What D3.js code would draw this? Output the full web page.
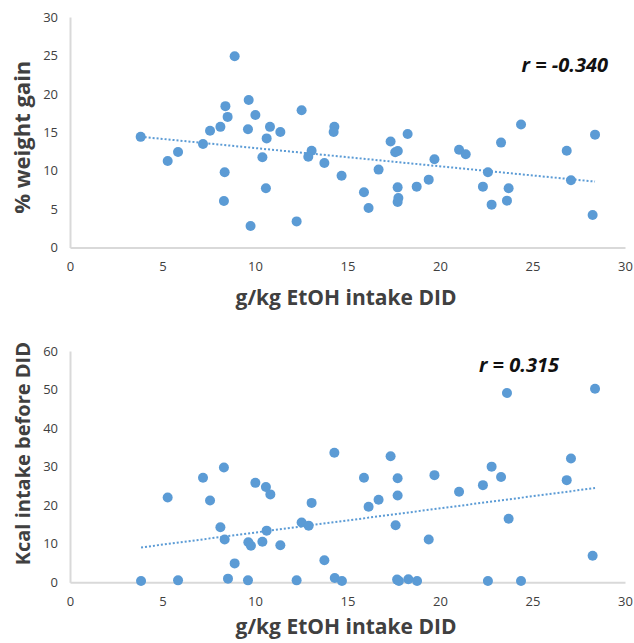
<!DOCTYPE html>
<html>
<head>
<meta charset="utf-8">
<script src="https://cdn.jsdelivr.net/npm/d3@7"></script>
<style>
  body { margin: 0; background: #fff; }
  text { font-family: "Open Sans", sans-serif; }
</style>
</head>
<body>
<div id="chart"></div>
<script>
// Data: g/kg EtOH intake DID vs % weight gain
var weightX = [3.82, 5.28, 5.84, 7.19, 7.57, 8.13, 8.40, 8.52, 8.36, 8.32, 8.90, 9.66, 9.62, 10.02,
  9.76, 10.4, 10.59, 10.63, 10.81, 11.37, 12.25, 12.52, 13.06, 12.88, 13.75, 14.29, 14.25, 14.68,
  15.89, 16.14, 16.68, 17.33, 17.58, 17.72, 17.71, 17.75, 17.71, 18.25, 18.74, 19.39, 19.7, 21.03,
  21.39, 22.32, 22.59, 22.79, 23.3, 23.71, 23.62, 24.38, 26.85, 27.08, 28.38, 28.25];
var weightY = [14.4, 11.26, 12.43, 13.47, 15.2, 15.7, 18.4, 17.0, 9.79, 6.05, 24.9, 19.2, 15.4, 17.25,
  2.8, 11.74, 7.71, 14.2, 15.7, 15.04, 3.4, 17.86, 12.6, 11.8, 11.0, 15.7, 15.04, 9.35,
  7.18, 5.14, 10.14, 13.8, 12.4, 12.55, 7.83, 6.44, 5.92, 14.78, 7.92, 8.83, 11.48, 12.73,
  12.13, 7.92, 9.79, 5.58, 13.65, 7.71, 6.1, 16.0, 12.6, 8.75, 14.69, 4.23];

// g/kg EtOH intake DID vs Kcal intake before DID
var kcalX = [3.84, 5.28, 5.84, 7.19, 7.57, 8.13, 8.32, 8.36, 8.54, 8.9, 9.62, 9.64, 9.78, 10.02,
  10.4, 10.59, 10.83, 10.63, 11.37, 12.25, 12.52, 12.9, 13.06, 13.75, 14.29, 14.31, 14.7, 15.89,
  16.14, 16.68, 17.33, 17.71, 17.71, 17.6, 17.68, 17.78, 18.29, 18.76, 19.39, 19.7, 21.03, 22.32,
  22.59, 22.79, 23.3, 23.62, 23.71, 24.38, 26.85, 27.08, 28.38, 28.25];
var kcalY = [0.34, 22.0, 0.5, 27.1, 21.2, 14.3, 29.8, 11.1, 0.95, 4.9, 0.5, 10.4, 9.5, 25.8,
  10.5, 24.7, 22.8, 13.4, 9.6, 0.5, 15.5, 14.7, 20.6, 5.7, 33.6, 1.1, 0.34, 27.1,
  19.6, 21.4, 32.7, 27.0, 22.5, 14.8, 0.7, 0.34, 0.78, 0.34, 11.1, 27.8, 23.5, 25.2,
  0.34, 30.0, 27.3, 49.1, 16.5, 0.34, 26.5, 32.1, 50.2, 6.9];

var xTicks = [0, 5, 10, 15, 20, 25, 30];
var weightTicks = [0, 5, 10, 15, 20, 25, 30];
var kcalTicks = [0, 10, 20, 30, 40, 50, 60];

var svgWidth = 634;
var svgHeight = 643;
var dotColor = "#5b9bd5";
var textColor = "#404040";

var svg = d3.select("#chart")
  .append("svg")
  .attr("width", svgWidth)
  .attr("height", svgHeight);

// Least squares fit, drawn between the min and max x
function fitLine(xs, ys) {
    var mx = d3.mean(xs), my = d3.mean(ys);
    var sxy = d3.sum(xs, (x, i) => (x - mx) * (ys[i] - my));
    var sxx = d3.sum(xs, x => (x - mx) * (x - mx));
    var b = sxy / sxx;
    var a = my - b * mx;
    var x0 = d3.min(xs), x1 = d3.max(xs);
    return [[x0, a + b * x0], [x1, a + b * x1]];
}

function drawPanel(opts) {
    var x = d3.scaleLinear().domain([0, 30]).range([70, 625]);
    var y = d3.scaleLinear().domain([0, d3.max(opts.yTicks)]).range([opts.bottom, opts.top]);
    var g = svg.append("g");

    // axes
    var xAxis = g.append("g")
        .attr("transform", `translate(0, ${opts.bottom})`)
        .call(d3.axisBottom(x).tickValues(xTicks).tickSize(0).tickPadding(14));
    var yAxis = g.append("g")
        .attr("transform", "translate(70, 0)")
        .call(d3.axisLeft(y).tickValues(opts.yTicks).tickSize(0).tickPadding(12));

    [xAxis, yAxis].forEach(ax => {
        ax.select(".domain").attr("stroke", "#d9d9d9").attr("stroke-width", 2);
        ax.selectAll("text")
            .attr("fill", textColor)
            .style("font-size", "13px")
            .style("font-family", "Open Sans, sans-serif");
    });

    // axis titles
    g.append("text")
        .attr("x", 346)
        .attr("y", opts.xLabelY)
        .attr("text-anchor", "middle")
        .attr("fill", textColor)
        .style("font-size", "21px")
        .style("font-weight", "bold")
        .text(opts.xLabel);

    g.append("text")
        .attr("transform", `translate(30, ${(opts.top + opts.bottom) / 2 + opts.yLabelShift}) rotate(-90)`)
        .attr("text-anchor", "middle")
        .attr("fill", textColor)
        .style("font-size", opts.yLabelSize)
        .style("font-weight", "bold")
        .text(opts.yLabel);

    // trend line
    var fit = fitLine(opts.xs, opts.ys);
    g.append("path")
        .attr("d", d3.line().x(d => x(d[0])).y(d => y(d[1]))(fit))
        .attr("fill", "none")
        .attr("stroke", dotColor)
        .attr("stroke-width", 2)
        .attr("stroke-dasharray", "2,2");

    // points
    g.selectAll("circle")
        .data(opts.xs.map((d, i) => [d, opts.ys[i]]))
        .enter()
        .append("circle")
        .attr("cx", d => x(d[0]))
        .attr("cy", d => y(d[1]))
        .attr("r", 5)
        .attr("fill", dotColor);

    // correlation label
    g.append("text")
        .attr("x", opts.rX)
        .attr("y", opts.rY)
        .attr("text-anchor", "end")
        .attr("fill", "#111")
        .style("font-size", "20px")
        .style("font-weight", "bold")
        .style("font-style", "italic")
        .text(opts.rText);
}

drawPanel({
    xs: weightX, ys: weightY, yTicks: weightTicks,
    top: 17, bottom: 247.5, xLabelY: 305,
    xLabel: "g/kg EtOH intake DID", yLabel: "% weight gain", yLabelShift: 5, yLabelSize: "22px",
    rText: "r = -0.340", rX: 608, rY: 72
});

drawPanel({
    xs: kcalX, ys: kcalY, yTicks: kcalTicks,
    top: 351, bottom: 582.3, xLabelY: 634,
    xLabel: "g/kg EtOH intake DID", yLabel: "Kcal intake before DID", yLabelShift: -13, yLabelSize: "20px",
    rText: "r = 0.315", rX: 559, rY: 372
});
</script>
</body>
</html>
